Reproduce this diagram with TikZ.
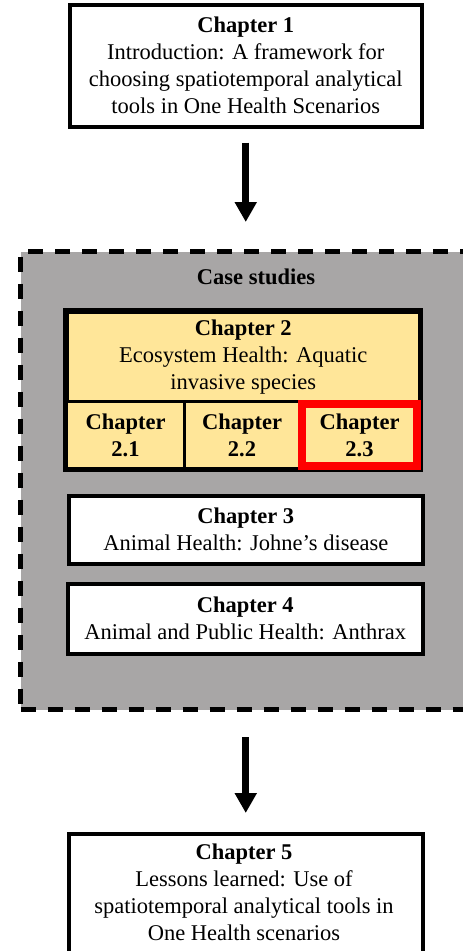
\documentclass[tikz,border=0pt]{standalone}
\usepackage{fontspec}
\setmainfont{Liberation Serif}
\usetikzlibrary{arrows.meta}
\definecolor{casegray}{RGB}{168,166,166}
\definecolor{chyellow}{RGB}{255,230,153}
\definecolor{chred}{RGB}{255,0,0}
\tikzset{
  txt/.style={font=\fontsize{22.5}{27}\selectfont, text=black, align=center},
  chbox/.style={txt, draw=black, line width=3.5pt, fill=white, inner sep=0pt, anchor=north west},
  ybox/.style={chbox, fill=chyellow, line width=3pt},
  bigarrow/.style={line width=7pt, -{Triangle[width=21pt,length=20pt]}},
}
\begin{document}
\begin{tikzpicture}[x=1pt,y=-1pt]
\useasboundingbox (0,0) rectangle (463,951);
\clip (0,0) rectangle (463,951);
\fill[white] (0,0) rectangle (463,951);

% Chapter 1
\node[chbox, minimum width=352pt, minimum height=122pt] (ch1) at (68,3)
  {\textbf{Chapter 1}\\Introduction: A framework for\\choosing spatiotemporal analytical\\tools in One Health Scenarios};

% Case studies container
\node[draw=black, fill=casegray, line width=5pt, dash pattern=on 15pt off 12pt,
      minimum width=457pt, minimum height=458pt, anchor=north west, inner sep=0pt] (cases) at (18,249) {};
\node[txt, font=\fontsize{22.5}{27}\selectfont\bfseries] (cstitle) at (256,277) {Case studies};

% Chapter 2
\node[ybox, line width=3.5pt, minimum width=353pt, minimum height=90pt] (ch2) at (65,310)
  {\textbf{Chapter 2}\\Ecosystem Health: Aquatic\\invasive species};
\node[ybox, minimum width=118pt, minimum height=67pt] (ch21) at (65,400) {\textbf{Chapter}\\\textbf{2.1}};
\node[ybox, minimum width=115pt, minimum height=67pt] (ch22) at (183,400) {\textbf{Chapter}\\\textbf{2.2}};
\node[ybox, minimum width=120pt, minimum height=67pt] (ch23) at (298,400) {\textbf{Chapter}\\\textbf{2.3}};
\draw[black, line width=3.5pt] (ch2.north west) rectangle (ch23.south east);
\draw[chred, line width=8pt] ([shift={(4pt,-4pt)}]ch23.north west) rectangle ([shift={(-4pt,4pt)}]ch23.south east);

% Chapter 3 and 4
\node[chbox, minimum width=354pt, minimum height=68pt] (ch3) at (67,494)
  {\textbf{Chapter 3}\\Animal Health: Johne's disease};
\node[chbox, minimum width=355pt, minimum height=70pt] (ch4) at (66,582)
  {\textbf{Chapter 4}\\Animal and Public Health: Anthrax};

% Chapter 5
\node[chbox, minimum width=354pt, minimum height=128pt, text depth=0pt] (ch5) at (67,832) {};
\node[txt, anchor=north] (ch5t) at (244,840)
  {\textbf{Chapter 5}\\Lessons learned: Use of\\spatiotemporal analytical tools in\\One Health scenarios};

% Arrows
\draw[bigarrow, shorten <=14pt, shorten >=27pt] (ch1.south) -- (ch1.south |- cases.north);
\draw[bigarrow, shorten <=25pt, shorten >=19pt] (cases.south -| ch5.north) -- (ch5.north);
\end{tikzpicture}
\end{document}
